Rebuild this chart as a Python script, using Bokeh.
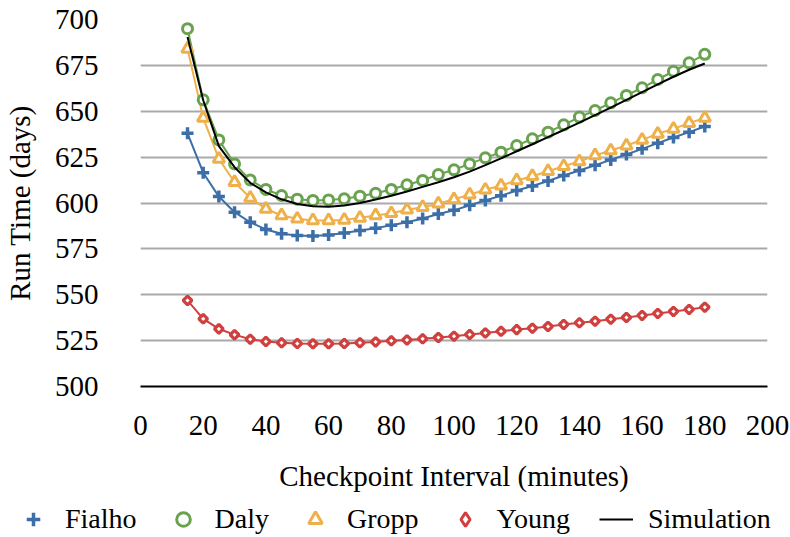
from bokeh.plotting import figure
from bokeh.layouts import column
from bokeh.models import Range1d, SingleIntervalTicker, Legend, LegendItem
from bokeh.embed import file_html
from bokeh.resources import INLINE
import math

intervals = [15, 20, 25, 30, 35, 40, 45, 50, 55, 60, 65, 70, 75, 80, 85, 90, 95, 100,
             105, 110, 115, 120, 125, 130, 135, 140, 145, 150, 155, 160, 165, 170, 175, 180]

fialho = [638, 616.5, 603.5, 595, 589.5, 585.6, 583.2, 582.3, 582, 582.6, 583.7, 585, 586.3,
          587.9, 589.5, 591.6, 594, 596, 598.8, 601.4, 604, 606.8, 609.3, 612, 615, 617.7,
          620.6, 623.5, 626.4, 629.5, 632.6, 635.7, 638.6, 641.7]
daly = [695, 656.2, 634.4, 621.3, 612.6, 607.4, 604.1, 602.1, 601.4, 601.7, 602.3, 603.7, 605.3,
        607.4, 609.9, 612.3, 615.5, 618.1, 621.3, 624.6, 627.7, 631.3, 635, 638.6, 642.6, 646.8,
        650.4, 654.6, 658.6, 662.8, 667.3, 671.8, 676.4, 681]
gropp = [684, 646.4, 624, 611.3, 602.8, 596.8, 593.2, 591.4, 590.5, 590.5, 590.8, 591.9, 593.2,
         594.4, 596.3, 597.7, 599.6, 602, 604.5, 607.2, 609.5, 612.3, 614.6, 617.3, 620, 622.6,
         625.9, 628.6, 631.3, 634.4, 637.7, 640.4, 643.5, 646.4]
young = [546.9, 536.9, 531.4, 528.2, 525.8, 524.5, 523.8, 523.4, 523.3, 523.3, 523.4, 523.8, 524.3,
         524.9, 525.4, 526, 526.7, 527.4, 528.3, 529.2, 530.1, 531, 531.8, 532.7, 533.8, 534.7,
         535.6, 536.7, 537.6, 538.7, 539.8, 540.9, 542, 543.2]
simulation = [690.5, 656, 631, 619.5, 611, 605.8, 602, 599.5, 598.2, 598, 598.6, 600, 601.9,
              604, 606.3, 608.8, 611.3, 614, 617.1, 620.6, 624.3, 628.2, 632, 635.9, 639.8, 643.8,
              647.9, 652, 656.2, 660.4, 664.6, 668.8, 672.6, 676]

series_names = ["Fialho", "Daly", "Gropp", "Young", "Simulation"]
x_label = "Checkpoint Interval (minutes)"
y_label = "Run Time (days)"

FONT = "Liberation Serif"
FS = "29px"

BLUE = "#3c6ea8"
GREEN = "#6aa34f"
ORANGE = "#efb04a"
RED = "#cf403e"
COLORS = [BLUE, GREEN, ORANGE, RED]

PLOT_STYLES = [
    dict(marker="cross", line_color=BLUE, line_width=3.5, size=12),
    dict(marker="circle", line_color=GREEN, line_width=3, fill_color="white", size=10),
    dict(marker="triangle", line_color=ORANGE, line_width=3, fill_color="white", size=11.5),
    dict(marker="square", angle=math.pi / 4, line_color=RED, line_width=3.2, fill_color="white",
         size=6.2),
]
LEGEND_STYLES = [
    dict(marker="cross", line_color=BLUE, line_width=3.5),
    dict(marker="circle", line_color=GREEN, line_width=3, fill_color="white"),
    dict(marker="triangle", line_color=ORANGE, line_width=3, fill_color="white"),
    dict(marker="diamond", line_color=RED, line_width=3, fill_color="white"),
]
marker_series = [fialho, daly, gropp, young]

p = figure(width=790, height=498, output_backend="svg", toolbar_location=None,
           x_range=Range1d(0, 200), y_range=Range1d(500, 700),
           min_border_left=136, min_border_right=23, min_border_top=19, min_border_bottom=112)
p.frame_align = False
p.outline_line_color = None
p.background_fill_color = "white"

p.xaxis.ticker = SingleIntervalTicker(interval=20)
p.yaxis.ticker = SingleIntervalTicker(interval=25)
p.xgrid.grid_line_color = None
p.ygrid.grid_line_color = "#a9a9a9"
p.ygrid.grid_line_width = 2

for ax in (p.xaxis[0], p.yaxis[0]):
    ax.major_tick_line_color = None
    ax.minor_tick_line_color = None
    ax.major_label_text_font = FONT
    ax.major_label_text_font_size = FS
    ax.major_label_text_color = "black"
    ax.axis_label_text_font = FONT
    ax.axis_label_text_font_size = FS
    ax.axis_label_text_font_style = "normal"
    ax.axis_label_text_color = "black"

p.yaxis.axis_line_color = None
p.yaxis.major_label_standoff = 36
p.yaxis.axis_label = y_label
p.yaxis.axis_label_standoff = 16
p.xaxis.axis_line_color = "black"
p.xaxis.axis_line_width = 2
p.xaxis.major_label_standoff = 23
p.xaxis.axis_label = x_label
p.xaxis.axis_label_standoff = 22

for ys, c in zip(marker_series, COLORS):
    p.line(intervals, ys, line_color=c, line_width=2)
for ys, st in zip(marker_series, PLOT_STYLES):
    p.scatter(intervals, ys, **st)
p.line(intervals, simulation, line_color="black", line_width=2)

# legend strip below the chart (its glyphs hold the same data but lie outside its view)
q = figure(width=790, height=39, output_backend="svg", toolbar_location=None,
           x_range=Range1d(-10, -9), y_range=Range1d(-10, -9),
           min_border_left=0, min_border_right=0, min_border_top=0, min_border_bottom=0)
q.frame_align = False
q.axis.visible = False
q.grid.visible = False
q.outline_line_color = None
leg_renderers = []
for ys, st in zip(marker_series, LEGEND_STYLES):
    leg_renderers.append(q.scatter(intervals, ys, **st))
leg_renderers.append(q.line(intervals, simulation, line_color="black", line_width=2))

legend = Legend(items=[LegendItem(label=n, renderers=[r]) for n, r in
                       zip(series_names, leg_renderers)],
                orientation="horizontal", location=(16, 1))
legend.glyph_width = 34
legend.glyph_height = 34
legend.label_height = 34
legend.label_standoff = 15
legend.spacing = 29
legend.padding = 0
legend.margin = 0
legend.border_line_color = None
legend.background_fill_alpha = 0
legend.label_text_font = FONT
legend.label_text_font_size = "28px"
legend.label_text_color = "black"
q.add_layout(legend)

layout = column(p, q, spacing=0)
open("out.html", "w").write(file_html(layout, INLINE))
